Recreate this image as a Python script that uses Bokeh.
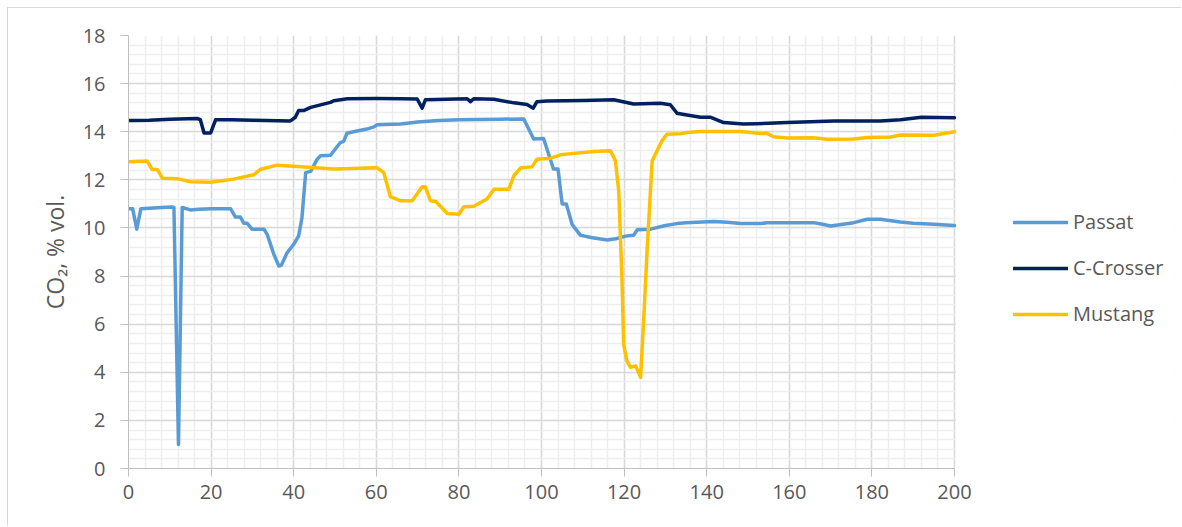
from bokeh.plotting import figure
from bokeh.models import Legend, LegendItem, FixedTicker, BoxAnnotation
from bokeh.embed import file_html
from bokeh.resources import INLINE

passat_x = [0,1,2,3,5,8,10.6,11,12.1,13,15,17,20,24.7,25.9,27.1,27.9,28.7,29.9,32.8,
            33.6,35.2,36.4,37,38.4,40,41.2,42,42.9,44.1,45.7,46.5,48.9,51.3,52.1,52.9,54.5,57.7,59.4,60.2,
            65.9,70,75,80,90,95.7,98.1,100.5,102.9,104,105,106,107.4,109.4,112,115.9,118,120.7,122.3,123.2,
            126.4,130,132.8,135,141.7,145,148.2,153,154.6,165.9,168,170,175.6,178.9,182,186.9,190,195,200]
passat_y = [10.8,10.8,9.95,10.8,10.82,10.85,10.87,10.85,1.0,10.85,10.75,10.78,10.8,10.8,10.45,10.45,10.2,10.2,9.95,9.95,
            9.72,8.9,8.42,8.45,8.97,9.32,9.67,10.43,12.3,12.35,12.86,13.0,13.02,13.55,13.6,13.94,14.0,14.11,14.2,14.29,
            14.32,14.4,14.47,14.5,14.52,14.53,13.7,13.72,12.45,12.45,11.0,11.0,10.15,9.7,9.6,9.5,9.55,9.67,9.7,9.92,
            9.95,10.1,10.18,10.22,10.27,10.24,10.18,10.18,10.22,10.22,10.15,10.08,10.22,10.36,10.36,10.25,10.2,10.15,10.1]

ccrosser_x = [0,5,10,16.6,17.4,18.3,19.9,21.1,25,30,39.2,40.4,41.2,42.4,44.1,48.9,49.7,53,60,65.9,
              69.9,71.1,71.9,82,82.8,83.6,88.5,93.3,96.5,98,98.9,101.3,110,117.5,122.3,128.8,131.2,132.8,134.5,138.5,
              141,144.1,148.9,152.1,159.5,170.8,182,186.9,192,200]
ccrosser_y = [14.47,14.48,14.52,14.55,14.5,13.95,13.95,14.5,14.5,14.48,14.45,14.6,14.88,14.88,15.01,15.22,15.29,15.37,15.38,15.37,
              15.36,14.98,15.33,15.37,15.25,15.37,15.35,15.2,15.13,14.98,15.25,15.28,15.3,15.33,15.15,15.18,15.12,14.77,14.72,14.6,
              14.6,14.38,14.32,14.33,14.38,14.45,14.45,14.5,14.6,14.58]

mustang_x = [0,4.5,5.7,7,8.2,11.8,15,19.9,25.5,30.3,32,36,40,49.7,60.2,61.8,63.4,65.9,68.7,71.1,
             71.9,73.1,74.4,77.2,80,81.2,83.6,86.8,88.5,92.1,93.3,94.9,97.7,98.9,102.2,104.6,107.8,112.7,116.7,117.9,
             118.7,119.5,119.9,120.7,121.5,122.8,124,124.8,125.6,126.8,127.6,129.2,130.4,133.7,135.3,138.5,148.2,153,154.6,156.2,
             159.5,165.9,169.1,175.6,178.9,184.5,186.9,195,200]
mustang_y = [12.75,12.78,12.44,12.42,12.07,12.05,11.92,11.9,12.03,12.21,12.44,12.61,12.56,12.45,12.5,12.3,11.3,11.13,11.13,11.71,
             11.7,11.13,11.1,10.6,10.57,10.88,10.9,11.2,11.61,11.61,12.17,12.49,12.54,12.86,12.9,13.04,13.1,13.18,13.21,12.79,
             11.54,7.79,5.15,4.46,4.21,4.26,3.79,6.4,9.18,12.79,13.07,13.63,13.9,13.92,13.97,14.01,14.01,13.93,13.93,13.79,
             13.74,13.75,13.69,13.7,13.76,13.78,13.86,13.85,14.0]

series_names = ["Passat", "C-Crosser", "Mustang"]
series_colors = ["#5B9BD5", "#002060", "#FFC000"]
x_ticks = list(range(0, 201, 20))
y_ticks = list(range(0, 19, 2))
y_label = "CO\u2082, % vol."

FONT = "Open Sans"
TXT = "#595959"

X_MAX = x_ticks[-1]
# frame extends to the right so that the legend (drawn inside the frame) is not clipped;
# 200 lands at 954 px; frame spans 128..1175 px
X_END = X_MAX * (1175 - 128) / (954 - 128)

p = figure(width=1174, height=519, x_range=(0, X_END), y_range=(0, 18),
           output_backend="svg", toolbar_location=None,
           min_border_left=120, min_border_right=7, min_border_top=27, min_border_bottom=59)
p.styles = {"margin-left": "7px", "margin-top": "7px",
            "border-left": "1px solid #d9d9d9", "border-top": "1px solid #d9d9d9",
            "box-sizing": "border-box"}
p.outline_line_color = None

p.xaxis.ticker = FixedTicker(ticks=x_ticks, minor_ticks=list(range(0, 201, 4)))
p.yaxis.ticker = FixedTicker(ticks=y_ticks, minor_ticks=[i * 0.4 for i in range(46)])
p.xaxis.bounds = (0, X_MAX)
for ax in (p.xaxis, p.yaxis):
    ax.axis_line_color = "#bfbfbf"
    ax.major_tick_line_color = "#bfbfbf"
    ax.major_tick_out = 8
    ax.major_tick_in = 0
    ax.minor_tick_line_color = None
    ax.major_label_text_font = FONT
    ax.major_label_text_font_size = "20px"
    ax.major_label_text_color = TXT
p.yaxis.major_label_standoff = 15
p.xaxis.major_label_standoff = 8
p.yaxis.axis_label = y_label
p.yaxis.axis_label_text_font = FONT
p.yaxis.axis_label_text_font_size = "23px"
p.yaxis.axis_label_text_font_style = "normal"
p.yaxis.axis_label_text_color = TXT
p.yaxis.axis_label_standoff = 9

p.xgrid.grid_line_color = "#d9d9d9"
p.ygrid.grid_line_color = "#d9d9d9"
p.xgrid.minor_grid_line_color = "#eeeeee"
p.ygrid.minor_grid_line_color = "#eeeeee"
p.xgrid.grid_line_width = 1.5
p.ygrid.grid_line_width = 1.5
p.xgrid.minor_grid_line_width = 1.5
p.ygrid.minor_grid_line_width = 1.5

# white mask to hide the horizontal grid lines beyond the last x tick
mask = BoxAnnotation(left=X_MAX + 0.3, fill_color="white", fill_alpha=1.0,
                     line_color=None, level="underlay")
p.add_layout(mask)

data = [(passat_x, passat_y), (ccrosser_x, ccrosser_y), (mustang_x, mustang_y)]
items = []
for (xs, ys), name, col in zip(data, series_names, series_colors):
    r = p.line(xs, ys, line_color=col, line_width=3.5, line_join="round", line_cap="round")
    items.append(LegendItem(label=name, renderers=[r]))

legend = Legend(items=items, location=(885, 141), orientation="vertical")
legend.background_fill_alpha = 0
legend.border_line_color = None
legend.label_text_font = FONT
legend.label_text_font_size = "20px"
legend.label_text_color = TXT
legend.glyph_width = 55
legend.glyph_height = 20
legend.label_height = 20
legend.spacing = 19
legend.label_standoff = 5
legend.padding = 0
legend.margin = 0
p.add_layout(legend, "center")

open("out.html", "w").write(file_html(p, INLINE))
